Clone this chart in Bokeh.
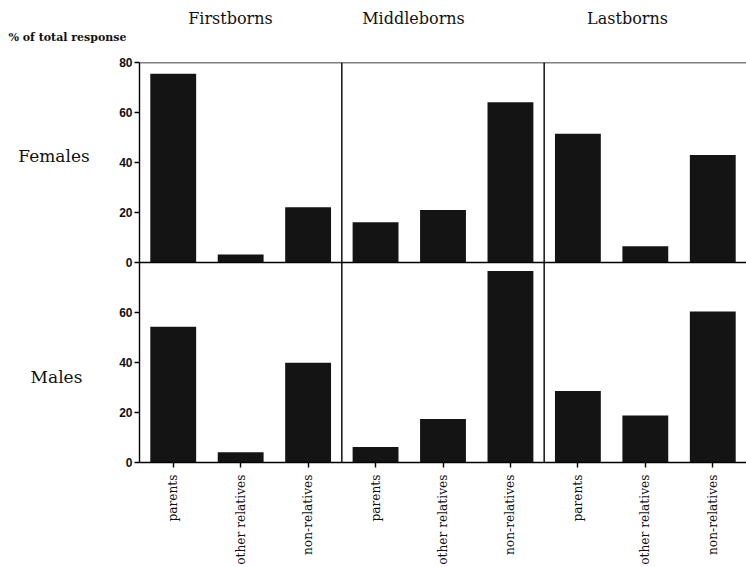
import math
from bokeh.plotting import figure
from bokeh.models import Range1d, FixedTicker, Span
from bokeh.layouts import column, row
from bokeh.core.properties import value
from bokeh.embed import file_html
from bokeh.resources import INLINE

# ---- data ----
groups = ["Firstborns", "Middleborns", "Lastborns"]
categories = ["parents", "other relatives", "non-relatives"]
rows = ["Females", "Males"]
females = [75.5, 3.2, 22.1, 16.1, 21.0, 64.1, 51.5, 6.5, 43.0]
males = [54.3, 4.1, 39.9, 6.2, 17.4, 76.6, 28.6, 18.8, 60.4]
top_ticks = [0, 20, 40, 60, 80]
bottom_ticks = [0, 20, 40, 60]
y_title = "% of total response"

n = len(groups) * len(categories)
xs = list(range(n))
labels = [c for g in groups for c in categories]

TOTAL_W, TOTAL_H = 746, 567
HEAD_H = 54
LEFT_W = 110
MAIN_W = TOTAL_W - LEFT_W
MAIN_H = TOTAL_H - HEAD_H
TOP_B, BOT_B = 8, 104
FRAME_H = MAIN_H - TOP_B - BOT_B
INK = "#111111"


def blank(w, h, yr):
    f = figure(width=w, height=h, output_backend="svg", toolbar_location=None,
               x_range=Range1d(0, w), y_range=Range1d(0, yr),
               x_axis_location=None, y_axis_location=None,
               min_border=0, min_border_left=0, min_border_right=0,
               min_border_top=0, min_border_bottom=0)
    f.outline_line_color = None
    f.grid.visible = False
    return f


# ---- header (column titles + y title) ----
head = blank(TOTAL_W, HEAD_H, HEAD_H)
head.text(x=[230, 413, 627], y=[HEAD_H - 18] * 3, text=groups,
          text_align="center", text_baseline="middle",
          text_font=value("DejaVu Serif"), text_font_size="16px", text_color=INK)
head.text(x=[8], y=[HEAD_H - 36.5], text=[y_title], text_align="left",
          text_baseline="middle", text_font=value("DejaVu Serif"),
          text_font_style="bold", text_font_size="11px", text_color=INK)

# ---- left column (row labels); its frame is aligned with the panels' frame ----
left = blank(LEFT_W, MAIN_H, FRAME_H)
frame_bottom = HEAD_H + TOP_B + FRAME_H
left.text(x=[53.5, 56], y=[frame_bottom - 156, frame_bottom - 377], text=rows,
          text_align="center", text_baseline="middle",
          text_font=value("DejaVu Serif"), text_font_size="17px", text_color=INK)

# ---- main panels ----
p = figure(width=MAIN_W, height=MAIN_H, output_backend="svg", toolbar_location=None,
           x_range=Range1d(-0.5, n - 0.5), y_range=Range1d(0, 160),
           min_border_left=29, min_border_right=0, min_border_top=TOP_B,
           min_border_bottom=BOT_B)
p.extra_y_ranges = {"top": Range1d(-80, 80)}
p.outline_line_color = None
p.grid.visible = False

bar_color = "#141414"
p.vbar(x=xs, top=males, bottom=0, width=0.68, fill_color=bar_color, line_color=None)
p.vbar(x=xs, top=females, bottom=0, width=0.68, fill_color=bar_color, line_color=None,
       y_range_name="top")

tick_vals = bottom_ticks + [80 + t for t in top_ticks]
ya = p.yaxis[0]
ya.ticker = FixedTicker(ticks=tick_vals)
ya.major_label_overrides = {80 + t: str(t) for t in top_ticks}
ya.minor_tick_line_color = None
ya.major_tick_out = 5
ya.major_tick_in = 0
ya.axis_line_width = 1.4
ya.major_tick_line_width = 1.4
ya.major_label_standoff = 2
ya.major_label_text_font = "Liberation Sans"
ya.major_label_text_font_style = "bold"
ya.major_label_text_font_size = "12px"
ya.major_label_text_color = INK

xa = p.xaxis[0]
xa.ticker = FixedTicker(ticks=xs)
xa.major_label_overrides = {i: l for i, l in zip(xs, labels)}
xa.minor_tick_line_color = None
xa.major_tick_out = 5
xa.major_tick_in = 0
xa.axis_line_width = 1.4
xa.major_tick_line_width = 1.4
xa.major_label_orientation = math.pi / 2
xa.major_label_standoff = 7
xa.major_label_text_font = "DejaVu Serif"
xa.major_label_text_font_size = "12.2px"
xa.major_label_text_color = INK

p.add_layout(Span(location=160, dimension="width", line_color="black", line_width=1.4))
p.add_layout(Span(location=0, dimension="width", line_color="black", line_width=1.4,
                  y_range_name="top"))
for d in (2.5, 5.5):
    p.add_layout(Span(location=d, dimension="height", line_color="black", line_width=1.4))

layout = column(head, row(left, p))
open("out.html", "w").write(file_html(layout, INLINE))
